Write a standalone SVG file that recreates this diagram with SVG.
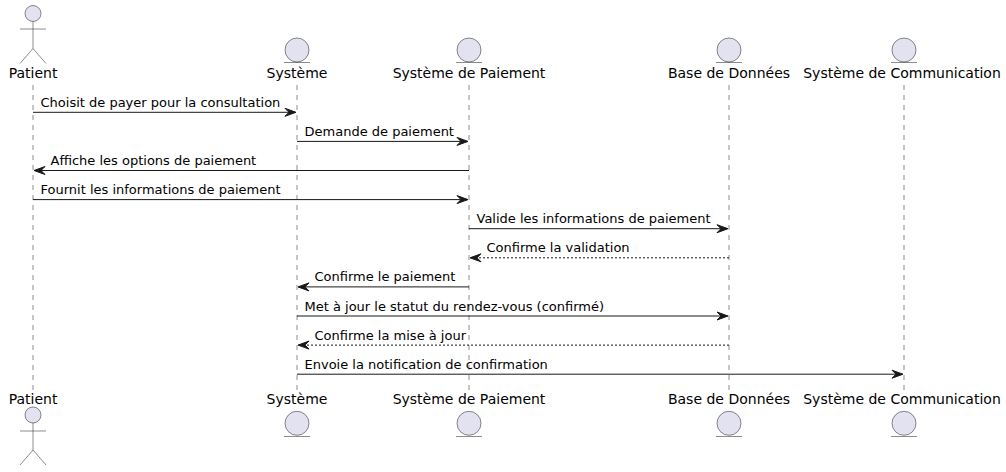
<svg xmlns="http://www.w3.org/2000/svg" width="1006" height="472" viewBox="0 0 1006 472">
<style>
.bg{fill:#FFFFFF}
.life{stroke:#181818;stroke-width:0.5;stroke-dasharray:5,5;fill:none}
.shape{fill:#E2E2F0;stroke:#181818;stroke-width:0.5}
.limb{fill:none;stroke:#181818;stroke-width:0.5}
.pname{font-family:"DejaVu Sans",sans-serif;font-size:14px;fill:#000000;text-anchor:middle}
.msg{font-family:"DejaVu Sans",sans-serif;font-size:13px;fill:#000000}
.line{stroke:#181818;stroke-width:1;fill:none}
.dash{stroke:#181818;stroke-width:1;fill:none;stroke-dasharray:2,2}
.head{fill:#181818;stroke:#181818;stroke-width:1}
</style>
<rect class="bg" x="0" y="0" width="1006" height="472"/>
<g id="lifelines">
<line class="life" x1="33" y1="85" x2="33" y2="391"/>
<line class="life" x1="297" y1="85" x2="297" y2="391"/>
<line class="life" x1="469" y1="85" x2="469" y2="391"/>
<line class="life" x1="729" y1="85" x2="729" y2="391"/>
<line class="life" x1="904" y1="85" x2="904" y2="391"/>
</g>
<g id="patient">
<circle class="shape" cx="33" cy="13.5" r="8"/>
<path class="limb" d="M33,21.5 V48.5 M20,29 H46 M33,48.5 L20,63.5 M33,48.5 L46,63.5"/>
<text class="pname" x="33" y="78">Patient</text>
<text class="pname" x="33" y="404">Patient</text>
<circle class="shape" cx="33" cy="415" r="8"/>
<path class="limb" d="M33,423 V450 M20,431 H46 M33,450 L20,465 M33,450 L46,465"/>
</g>
<g id="systeme">
<circle class="shape" cx="297" cy="50" r="12"/>
<line class="limb" x1="284" y1="62.5" x2="310" y2="62.5"/>
<text class="pname" x="297" y="78">Système</text>
<text class="pname" x="297" y="404">Système</text>
<circle class="shape" cx="297" cy="423.3" r="12"/>
<line class="limb" x1="284" y1="436.5" x2="310" y2="436.5"/>
</g>
<g id="paiement">
<circle class="shape" cx="469" cy="50" r="12"/>
<line class="limb" x1="456" y1="62.5" x2="482" y2="62.5"/>
<text class="pname" x="469" y="78">Système de Paiement</text>
<text class="pname" x="469" y="404">Système de Paiement</text>
<circle class="shape" cx="469" cy="423.3" r="12"/>
<line class="limb" x1="456" y1="436.5" x2="482" y2="436.5"/>
</g>
<g id="bdd">
<circle class="shape" cx="729" cy="50" r="12"/>
<line class="limb" x1="716" y1="62.5" x2="742" y2="62.5"/>
<text class="pname" x="729" y="78">Base de Données</text>
<text class="pname" x="729" y="404">Base de Données</text>
<circle class="shape" cx="729" cy="423.3" r="12"/>
<line class="limb" x1="716" y1="436.5" x2="742" y2="436.5"/>
</g>
<g id="communication">
<circle class="shape" cx="904" cy="50" r="12"/>
<line class="limb" x1="891" y1="62.5" x2="917" y2="62.5"/>
<text class="pname" x="902" y="78">Système de Communication</text>
<text class="pname" x="902" y="404">Système de Communication</text>
<circle class="shape" cx="904" cy="423.3" r="12"/>
<line class="limb" x1="891" y1="436.5" x2="917" y2="436.5"/>
</g>
<g id="connectors">
<line class="line" x1="33" y1="112.3" x2="295" y2="112.3"/>
<polygon class="head" points="285,108.3 296,112.3 285,116.3 289,112.3"/>
<text class="msg" x="40.5" y="106.8">Choisit de payer pour la consultation</text>

<line class="line" x1="297" y1="141.4" x2="467" y2="141.4"/>
<polygon class="head" points="457,137.4 468,141.4 457,145.4 461,141.4"/>
<text class="msg" x="304.5" y="135.9">Demande de paiement</text>

<line class="line" x1="35" y1="170.5" x2="469" y2="170.5"/>
<polygon class="head" points="45,166.5 34,170.5 45,174.5 41,170.5"/>
<text class="msg" x="50.5" y="165">Affiche les options de paiement</text>

<line class="line" x1="33" y1="199.6" x2="467" y2="199.6"/>
<polygon class="head" points="457,195.6 468,199.6 457,203.6 461,199.6"/>
<text class="msg" x="40.5" y="194.1">Fournit les informations de paiement</text>

<line class="line" x1="469" y1="228.7" x2="727" y2="228.7"/>
<polygon class="head" points="717,224.7 728,228.7 717,232.7 721,228.7"/>
<text class="msg" x="476.5" y="223.2">Valide les informations de paiement</text>

<line class="dash" x1="471" y1="257.8" x2="729" y2="257.8"/>
<polygon class="head" points="481,253.8 470,257.8 481,261.8 477,257.8"/>
<text class="msg" x="486.5" y="252.3">Confirme la validation</text>

<line class="line" x1="299" y1="286.9" x2="469" y2="286.9"/>
<polygon class="head" points="309,282.9 298,286.9 309,290.9 305,286.9"/>
<text class="msg" x="314.5" y="281.4">Confirme le paiement</text>

<line class="line" x1="297" y1="316" x2="727" y2="316"/>
<polygon class="head" points="717,312 728,316 717,320 721,316"/>
<text class="msg" x="304.5" y="310.5">Met à jour le statut du rendez-vous (confirmé)</text>

<line class="dash" x1="299" y1="345.1" x2="729" y2="345.1"/>
<polygon class="head" points="309,341.1 298,345.1 309,349.1 305,345.1"/>
<text class="msg" x="314.5" y="339.6">Confirme la mise à jour</text>

<line class="line" x1="297" y1="374.2" x2="902" y2="374.2"/>
<polygon class="head" points="892,370.2 903,374.2 892,378.2 896,374.2"/>
<text class="msg" x="304.5" y="368.7">Envoie la notification de confirmation</text>
</g>
</svg>
